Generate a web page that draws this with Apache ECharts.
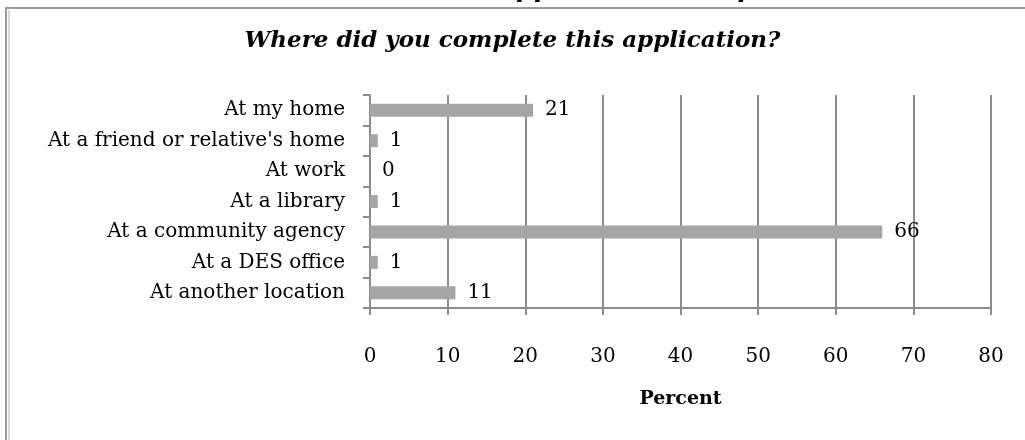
<!DOCTYPE html>
<html>
<head>
<meta charset="utf-8">
<script src="https://cdn.jsdelivr.net/npm/echarts@6/dist/echarts.min.js"></script>
<style>
  html, body { margin: 0; padding: 0; background: #fff; }
  #chart { width: 1025px; height: 440px; }
</style>
</head>
<body>
<div id="chart"></div>
<script>
// data
var categories = [
  'At my home',
  "At a friend or relative's home",
  'At work',
  'At a library',
  'At a community agency',
  'At a DES office',
  'At another location'
];
var percents = [21, 1, 0, 1, 66, 1, 11];
var xTicks = [0, 80, 10]; // min, max, step

var serif = '"DejaVu Serif", "Liberation Serif", serif';
var gridGray = '#8c8c8c';

var chart = echarts.init(document.getElementById('chart'));

var options = {
  animation: false,
  title: {
    text: 'Where did you complete this application?',
    left: 'center',
    top: 25,
    textStyle: {
      fontFamily: serif,
      fontStyle: 'italic',
      fontWeight: 'bold',
      fontSize: 23,
      color: '#000'
    }
  },
  graphic: [
    // heading from the page above, cut off by the top edge
    {
      type: 'text',
      left: 496,
      top: -23,
      style: {
        text: 'Application Completion',
        font: 'italic bold 26px ' + serif,
        fill: '#000'
      }
    },
    // frame
    {
      type: 'polyline',
      shape: { points: [[6, 440], [6, 8], [1025, 8]] },
      style: { stroke: '#9a9a9a', lineWidth: 2, fill: null }
    },
    {
      type: 'line',
      shape: { x1: 9, y1: 10, x2: 9, y2: 440 },
      style: { stroke: '#b0b0b0', lineWidth: 1 }
    }
  ],
  grid: {
    left: 370,
    right: 34,
    top: 95,
    bottom: 132
  },
  xAxis: {
    type: 'value',
    min: xTicks[0],
    max: xTicks[1],
    interval: xTicks[2],
    name: 'Percent',
    nameLocation: 'middle',
    nameGap: 82,
    nameTextStyle: {
      fontFamily: serif,
      fontWeight: 'bold',
      fontSize: 19,
      color: '#000'
    },
    axisLine: { show: true, lineStyle: { color: gridGray, width: 2 } },
    axisTick: { show: true, length: 7, lineStyle: { color: gridGray, width: 2 } },
    axisLabel: {
      margin: 39,
      fontFamily: serif,
      fontSize: 20,
      color: '#000'
    },
    splitLine: { show: true, lineStyle: { color: gridGray, width: 2 } }
  },
  yAxis: {
    type: 'category',
    data: categories,
    inverse: true,
    axisLine: { show: true, lineStyle: { color: gridGray, width: 2 } },
    axisTick: { show: true, length: 7, lineStyle: { color: gridGray, width: 2 } },
    axisLabel: {
      margin: 25,
      fontFamily: serif,
      fontSize: 20,
      color: '#000'
    }
  },
  series: [
    {
      type: 'bar',
      data: percents,
      barWidth: 13,
      itemStyle: { color: '#a5a5a5' },
      label: {
        show: true,
        position: 'right',
        distance: 12,
        fontFamily: serif,
        fontSize: 20,
        color: '#000'
      }
    }
  ]
};

chart.setOption(options);
</script>
</body>
</html>
